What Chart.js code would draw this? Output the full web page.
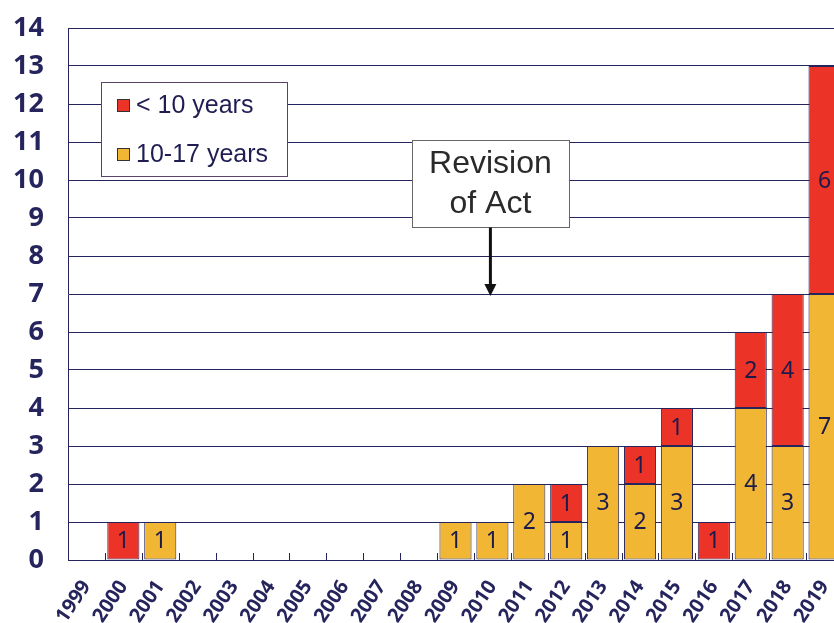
<!DOCTYPE html>
<html>
<head>
<meta charset="utf-8">
<script src="https://cdn.jsdelivr.net/npm/chart.js@4/dist/chart.umd.min.js"></script>
<style>
  html, body { margin: 0; padding: 0; background: #fff; overflow: hidden; }
  #wrap { position: relative; width: 846px; height: 623px; }
</style>
</head>
<body>
<div id="wrap"><canvas id="chart"></canvas></div>
<script>
// data
const years = ['1999', '2000', '2001', '2002', '2003', '2004', '2005', '2006', '2007',
               '2008', '2009', '2010', '2011', '2012', '2013', '2014', '2015', '2016',
               '2017', '2018', '2019'];
const under10 = [0, 1, 0, 0, 0, 0, 0, 0, 0, 0, 0, 0, 0, 1, 0, 1, 1, 1, 2, 4, 6];
const age10to17 = [0, 0, 1, 0, 0, 0, 0, 0, 0, 0, 1, 1, 2, 1, 3, 2, 3, 0, 4, 3, 7];
const yTicks = [0, 1, 2, 3, 4, 5, 6, 7, 8, 9, 10, 11, 12, 13, 14];
const seriesNames = ['< 10 years', '10-17 years'];
const noteLines = ['Revision', 'of Act'];
const noteYear = '2010';

const NAVY = '#26245c';
const RED = '#ec3327';
const YELLOW = '#f1b634';

// numbers inside the bars
const barLabels = {
    id: 'barLabels',
    afterDatasetsDraw(chart) {
        const ctx = chart.ctx;
        ctx.save();
        ctx.font = '23px "Noto Sans"';
        ctx.fillStyle = '#1c1a4a';
        ctx.textAlign = 'center';
        ctx.textBaseline = 'middle';
        chart.data.datasets.forEach((ds, di) => {
            chart.getDatasetMeta(di).data.forEach((bar, i) => {
                const v = ds.data[i];
                if (!v) return;
                const mid = (bar.y + bar.base) / 2;
                ctx.fillText(String(v), bar.x, mid + 1);
            });
        });
        ctx.restore();
    }
};

// small marks between categories on the base line
const catTicks = {
    id: 'catTicks',
    beforeDatasetsDraw(chart) {
        const x = chart.scales.x, area = chart.chartArea, ctx = chart.ctx;
        const step = x.getPixelForValue(1) - x.getPixelForValue(0);
        ctx.save();
        ctx.strokeStyle = NAVY;
        ctx.lineWidth = 1;
        for (let i = 0; i <= years.length; i++) {
            const px = Math.round(x.getPixelForValue(i) - step / 2) + 0.5;
            ctx.beginPath();
            ctx.moveTo(px, area.bottom - 7);
            ctx.lineTo(px, area.bottom);
            ctx.stroke();
        }
        ctx.restore();
    }
};

// legend box and the "Revision of Act" note
const extras = {
    id: 'extras',
    afterDraw(chart) {
        const ctx = chart.ctx;
        const xs = chart.scales.x, ys = chart.scales.y;
        ctx.save();

        // legend
        ctx.fillStyle = '#fff';
        ctx.fillRect(101, 82, 186, 94);
        ctx.strokeStyle = '#5a4468';
        ctx.lineWidth = 1;
        ctx.strokeRect(101.5, 82.5, 186, 94);
        const legendCols = [RED, YELLOW];
        const rows = [105, 154];
        ctx.font = '25px "Liberation Sans"';
        ctx.textBaseline = 'middle';
        ctx.textAlign = 'left';
        seriesNames.forEach((name, k) => {
            ctx.fillStyle = legendCols[k];
            ctx.fillRect(117, rows[k] - 6, 13, 13);
            ctx.strokeStyle = '#333';
            ctx.strokeRect(117.5, rows[k] - 5.5, 12, 12);
            ctx.fillStyle = '#1f1d52';
            ctx.fillText(name, 136, rows[k] + 1);
        });

        // note box with arrow
        const cx = xs.getPixelForValue(years.indexOf(noteYear)) - 2;
        const top = ys.getPixelForValue(11.05);
        const bot = ys.getPixelForValue(8.75);
        const tip = ys.getPixelForValue(6.95);
        const w = 157;
        ctx.fillStyle = '#fff';
        ctx.fillRect(cx - w / 2, top, w, bot - top);
        ctx.strokeStyle = '#666';
        ctx.strokeRect(Math.round(cx - w / 2) + 0.5, Math.round(top) + 0.5, w, Math.round(bot - top));
        ctx.fillStyle = '#2a2a2a';
        ctx.font = '32px "Liberation Sans"';
        ctx.textAlign = 'center';
        ctx.fillText(noteLines[0], cx, top + 24);
        ctx.fillText(noteLines[1], cx, top + 64);

        ctx.strokeStyle = '#111';
        ctx.lineWidth = 3;
        ctx.beginPath();
        ctx.moveTo(cx, bot);
        ctx.lineTo(cx, tip - 10);
        ctx.stroke();
        ctx.fillStyle = '#111';
        ctx.beginPath();
        ctx.moveTo(cx - 6, tip - 12);
        ctx.lineTo(cx + 6, tip - 12);
        ctx.lineTo(cx, tip);
        ctx.closePath();
        ctx.fill();
        ctx.restore();
    }
};

const toBars = arr => arr.map(v => (v === 0 ? null : v));

new Chart(document.getElementById('chart'), {
    type: 'bar',
    data: {
        labels: years,
        datasets: [{
            label: seriesNames[1],
            data: toBars(age10to17),
            backgroundColor: YELLOW,
            borderColor: NAVY,
            borderWidth: 1,
            borderSkipped: false,
            barPercentage: 0.87,
            categoryPercentage: 1
        }, {
            label: seriesNames[0],
            data: toBars(under10),
            backgroundColor: RED,
            borderColor: NAVY,
            borderWidth: 1,
            borderSkipped: false,
            barPercentage: 0.87,
            categoryPercentage: 1
        }]
    },
    options: {
        responsive: true,
        maintainAspectRatio: false,
        animation: false,
        layout: { padding: { top: 28, right: 3, left: 0, bottom: 0 } },
        plugins: {
            legend: { display: false },
            tooltip: { enabled: false }
        },
        scales: {
            x: {
                stacked: true,
                afterFit: s => { s.height = 63; s.paddingLeft = 0; s.paddingRight = 0; },
                grid: { display: false },
                border: { display: true, color: NAVY, width: 1 },
                ticks: {
                    autoSkip: false,
                    maxRotation: 56,
                    minRotation: 56,
                    padding: 8,
                    color: NAVY,
                    font: { family: 'Noto Sans', size: 20, weight: 'bold' }
                }
            },
            y: {
                stacked: true,
                min: 0,
                max: 14,
                afterFit: s => { s.width = 68; s.paddingTop = 0; s.paddingBottom = 0; },
                afterBuildTicks: s => { s.ticks = yTicks.map(v => ({ value: v })); },
                grid: { color: NAVY, lineWidth: 1, drawTicks: false },
                border: { display: true, color: NAVY, width: 1 },
                ticks: {
                    padding: 24,
                    color: NAVY,
                    font: { family: 'Noto Sans', size: 27, weight: 'bold' }
                }
            }
        }
    },
    plugins: [catTicks, barLabels, extras]
});
</script>
</body>
</html>
